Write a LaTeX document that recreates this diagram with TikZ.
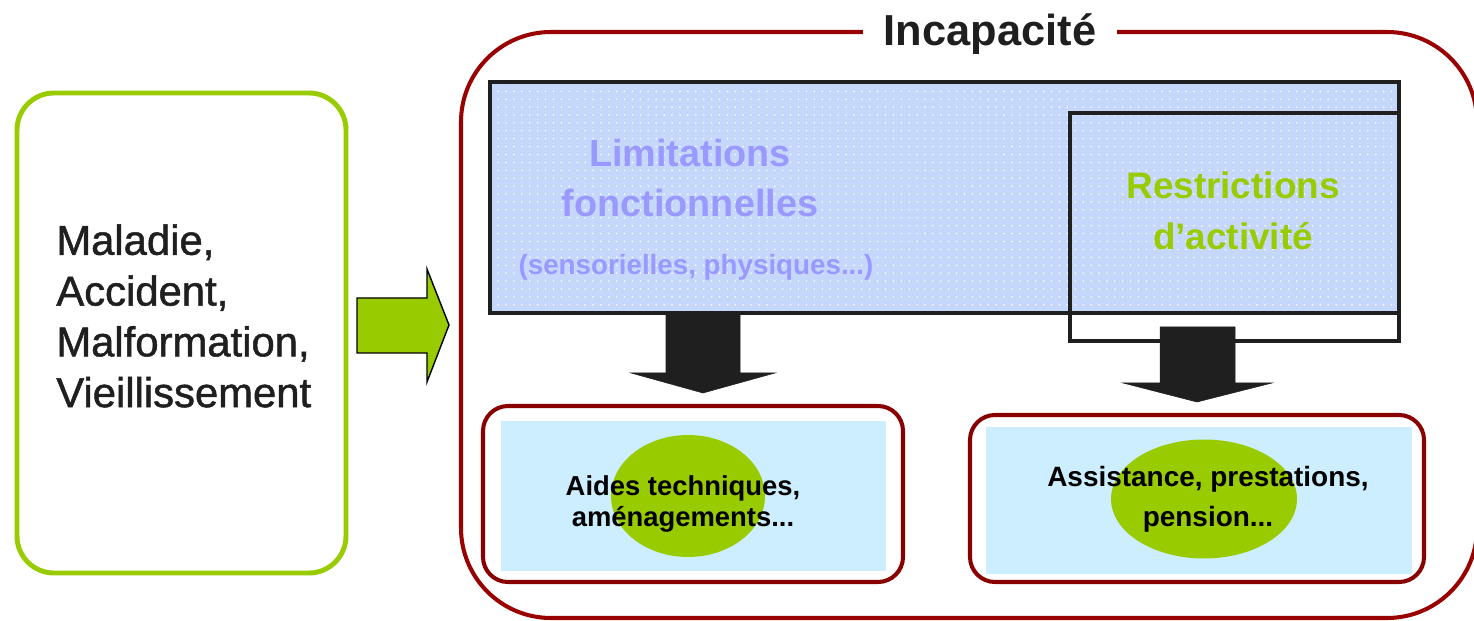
\documentclass[tikz,border=0pt]{standalone}
\usepackage{fontspec}
\setmainfont{Liberation Sans}
\newfontfamily\medfont{Liberation Sans}[FakeBold=1.2]
\usetikzlibrary{patterns.meta,shapes.geometric}

\definecolor{limegreen}{HTML}{99CC00}
\definecolor{incred}{HTML}{990000}
\definecolor{boxred}{HTML}{880000}
\definecolor{textgray}{HTML}{1F1F1F}
\definecolor{boxblack}{HTML}{1F1F1F}
\definecolor{patblue}{HTML}{C5D7FB}
\definecolor{lavender}{HTML}{9999FF}
\definecolor{paleblue}{HTML}{CCEEFF}

\tikzset{
  redbox/.style={draw=boxred, line width=2.3pt, rounded corners=0.5cm},
  blockarrow/.style={fill=boxblack, draw=boxblack, line width=0.3pt, line join=miter},
  ovale/.style={ellipse, fill=limegreen, inner sep=0pt}
}

\begin{document}
\begin{tikzpicture}[x=0.02cm,y=-0.02cm]
\useasboundingbox (0,0) rectangle (1474,621);

% causes
\path (17,93) coordinate (causetop);
\path (346,573) coordinate (causebottom);
\draw[limegreen, line width=2.8pt, rounded corners=0.74cm] (causetop) rectangle (causebottom);
\path (56,316) node[anchor=west, inner sep=0pt, align=left, text=textgray, font=\medfont\fontsize{23.8}{28.9}\selectfont] (causes) {Maladie,\\Accident,\\Malformation,\\Vieillissement};

% green arrow
\path (357,298) coordinate (ga1);
\path (427,298) coordinate (ga2);
\path (427,269) coordinate (ga3);
\path (449,325) coordinate (gatip);
\path (427,382) coordinate (ga5);
\path (427,353) coordinate (ga6);
\path (357,353) coordinate (ga7);
\draw[black, line width=0.8pt, fill=limegreen, line join=miter] (ga1) -- (ga2) -- (ga3) -- (gatip) -- (ga5) -- (ga6) -- (ga7) -- cycle;

% incapacite
\path (461,32) coordinate (incaptop);
\path (1477,618) coordinate (incapbottom);
\draw[incred, line width=2.3pt, rounded corners=1.8cm] (incaptop) rectangle (incapbottom);
\path (990,34) node[fill=white, inner xsep=12pt, text=textgray, font=\bfseries\fontsize{24.7}{30}\selectfont] (incap) {Incapacité};

% limitations
\path (490,82) coordinate (limtop);
\path (1399,313) coordinate (limbottom);
\draw[boxblack, line width=2.2pt, preaction={fill=patblue}, pattern={Dots[distance=4.5pt, radius=0.5pt]}, pattern color=white] (limtop) rectangle (limbottom);
\path (690,178) node[align=center, text=lavender, font=\bfseries\fontsize{21.5}{28.9}\selectfont] (limit) {Limitations\\fonctionnelles};
\path (696,267) node[text=lavender, font=\bfseries\fontsize{15.8}{19}\selectfont] (limitex) {(sensorielles, physiques...)};

% restrictions
\path (1070,113) coordinate (restop);
\path (1399,341) coordinate (resbottom);
\draw[boxblack, line width=2.2pt] (restop) rectangle (resbottom);
\path (1233,211) node[align=center, text=limegreen, font=\bfseries\fontsize{21}{28.9}\selectfont] (restr) {Restrictions\\d’activité};

% black arrows
\path (666,313) coordinate (la1);
\path (740,313) coordinate (la2);
\path (740,373) coordinate (la3);
\path (775,373) coordinate (la4);
\path (703,393) coordinate (latip);
\path (631,373) coordinate (la6);
\path (666,373) coordinate (la7);
\draw[blockarrow] (la1) -- (la2) -- (la3) -- (la4) -- (latip) -- (la6) -- (la7) -- cycle;

\path (1160,327) coordinate (ra1);
\path (1235,327) coordinate (ra2);
\path (1235,383) coordinate (ra3);
\path (1272,383) coordinate (ra4);
\path (1197,402) coordinate (ratip);
\path (1123,383) coordinate (ra6);
\path (1160,383) coordinate (ra7);
\draw[blockarrow] (ra1) -- (ra2) -- (ra3) -- (ra4) -- (ratip) -- (ra6) -- (ra7) -- cycle;

% aides
\path (483,406) coordinate (aidestop);
\path (903,582) coordinate (aidesbottom);
\draw[redbox] (aidestop) rectangle (aidesbottom);
\path (501,421) coordinate (aidesfondtop);
\path (886,571) coordinate (aidesfondbottom);
\fill[paleblue] (aidesfondtop) rectangle (aidesfondbottom);
\path (688,496) node[ovale, minimum width=3.08cm, minimum height=2.44cm] (aidesovale) {};
\path (683,504) node[align=center, font=\bfseries\fontsize{15.6}{18}\selectfont] (aides) {Aides techniques,\\aménagements...};

% assistance
\path (970,415) coordinate (assisttop);
\path (1424,582) coordinate (assistbottom);
\draw[redbox] (assisttop) rectangle (assistbottom);
\path (986,427) coordinate (assistfondtop);
\path (1412,574) coordinate (assistfondbottom);
\fill[paleblue] (assistfondtop) rectangle (assistfondbottom);
\path (1204,499) node[ovale, minimum width=3.72cm, minimum height=2.38cm] (assistovale) {};
\path (1208,499) node[align=center, font=\bfseries\fontsize{15.9}{22.7}\selectfont] (assist) {Assistance, prestations,\\pension...};
\end{tikzpicture}
\end{document}
